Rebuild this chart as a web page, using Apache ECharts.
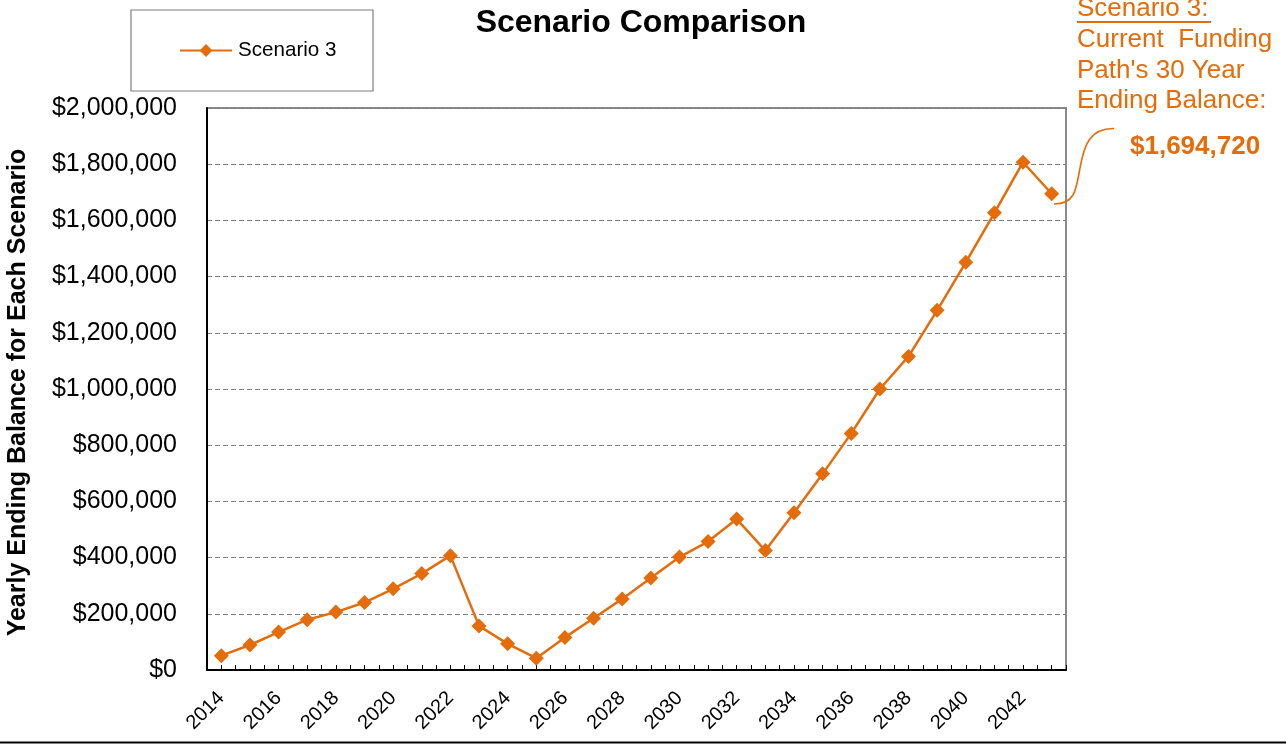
<!DOCTYPE html>
<html>
<head>
<meta charset="utf-8">
<script src="https://cdn.jsdelivr.net/npm/echarts@6/dist/echarts.min.js"></script>
<style>
html,body{margin:0;padding:0;background:#fff;}
#chart{width:1286px;height:744px;}
</style>
</head>
<body>
<div id="chart"></div>
<script>
const years = [2014,2015,2016,2017,2018,2019,2020,2021,2022,2023,2024,2025,2026,2027,2028,2029,2030,2031,2032,2033,2034,2035,2036,2037,2038,2039,2040,2041,2042,2043];
const scenario3 = [51000,89000,135000,179000,206000,240000,289000,343000,407000,157000,93000,42000,116000,184000,253000,327000,402000,457000,537000,425000,560000,698000,842000,1000000,1116000,1280000,1451000,1627000,1807000,1694720];
const seriesName = 'Scenario 3';
const titleText = 'Scenario Comparison';
const yAxisTitle = 'Yearly Ending Balance for Each Scenario';
const noteLines = ['Scenario 3:', 'Current  Funding', "Path's 30 Year", 'Ending Balance:'];
const noteValue = '$1,694,720';

const FONT = "'Liberation Sans', Arial, sans-serif";
const ORANGE = '#E46C0A';

const chart = echarts.init(document.getElementById('chart'), null, {renderer: 'canvas'});
const fmtMoney = v => '$' + Math.round(v).toLocaleString('en-US');

chart.setOption({
  animation: false,
  backgroundColor: '#ffffff',
  title: {
    text: titleText,
    left: 636, top: 2, textAlign: 'center',
    textStyle: {fontFamily: FONT, fontSize: 32, fontWeight: 'bold', color: '#000'}
  },
  legend: {
    data: [seriesName],
    left: 179, top: 40,
    padding: 0,
    itemWidth: 52, itemHeight: 16, itemGap: 0,
    textStyle: {fontFamily: FONT, fontSize: 20.6, color: '#000', padding: [0, 0, 0, 1]}
  },
  grid: {
    left: 207, right: 220, top: 108, bottom: 74,
    outerBoundsMode: 'none',
    show: true, borderColor: '#8a8a8a', borderWidth: 2, backgroundColor: 'transparent'
  },
  xAxis: {
    type: 'value',
    min: 2013.5, max: 2043.5, interval: 0.5,
    axisLine: {show: true, onZero: false, lineStyle: {color: '#000', width: 2}},
    axisTick: {show: true, inside: true, length: 5, lineStyle: {color: '#000', width: 1}},
    splitLine: {show: false},
    axisLabel: {
      rotate: 45, margin: 25,
      fontFamily: FONT, fontSize: 20, color: '#000',
      showMinLabel: true, showMaxLabel: true,
      formatter: v => (Number.isInteger(v) && v % 2 === 0 && years.indexOf(v) >= 0) ? String(v) : ''
    }
  },
  yAxis: {
    type: 'value',
    min: 0, max: 2000000, interval: 200000,
    name: yAxisTitle, nameLocation: 'middle', nameRotate: 90, nameGap: 176,
    nameTextStyle: {fontFamily: FONT, fontSize: 25, fontWeight: 'bold', color: '#000', padding: [0, 7, 0, 0]},
    axisLine: {show: true, lineStyle: {color: '#000', width: 2}},
    axisTick: {show: false},
    splitLine: {show: true, lineStyle: {color: '#808080', width: 1, type: [5, 3]}},
    axisLabel: {margin: 30, fontFamily: FONT, fontSize: 25, color: '#000', formatter: fmtMoney}
  },
  series: [{
    name: seriesName,
    type: 'line',
    data: years.map((y, i) => [y, scenario3[i]]),
    color: ORANGE,
    lineStyle: {color: ORANGE, width: 2.5},
    itemStyle: {color: ORANGE},
    symbol: 'diamond', symbolSize: 15, showSymbol: true
  }],
  graphic: [
    {type: 'rect', shape: {x: 131, y: 10, width: 242, height: 81}, style: {fill: 'none', stroke: '#7f7f7f', lineWidth: 1.2}, z: 0, silent: true},
    {type: 'text', x: 1077, y: 9, style: {text: noteLines[0], fill: ORANGE, font: "26px " + FONT, textVerticalAlign: 'middle'}},
    {type: 'line', shape: {x1: 1077, y1: 22, x2: 1211, y2: 22}, style: {stroke: ORANGE, lineWidth: 2}},
    {type: 'text', x: 1077, y: 40, style: {text: noteLines[1], fill: ORANGE, font: "26px " + FONT, textVerticalAlign: 'middle'}},
    {type: 'text', x: 1077, y: 70.5, style: {text: noteLines[2], fill: ORANGE, font: "26px " + FONT, textVerticalAlign: 'middle'}},
    {type: 'text', x: 1077, y: 101, style: {text: noteLines[3], fill: ORANGE, font: "26px " + FONT, textVerticalAlign: 'middle'}},
    {type: 'text', x: 1130, y: 147, style: {text: noteValue, fill: ORANGE, font: "bold 26px " + FONT, textVerticalAlign: 'middle'}},
    {type: 'bezierCurve', shape: {x1: 1114, y1: 128.5, cpx1: 1090, cpy1: 128, cpx2: 1084, cpy2: 145, x2: 1080, y2: 168}, style: {fill: 'none', stroke: ORANGE, lineWidth: 1.6}},
    {type: 'bezierCurve', shape: {x1: 1080, y1: 168, cpx1: 1076, cpy1: 192, cpx2: 1074, cpy2: 204, x2: 1054, y2: 204}, style: {fill: 'none', stroke: ORANGE, lineWidth: 1.6}},
    {type: 'line', shape: {x1: 0, y1: 742.5, x2: 1286, y2: 742.5}, style: {stroke: '#000', lineWidth: 2}}
  ]
});
</script>
</body>
</html>
